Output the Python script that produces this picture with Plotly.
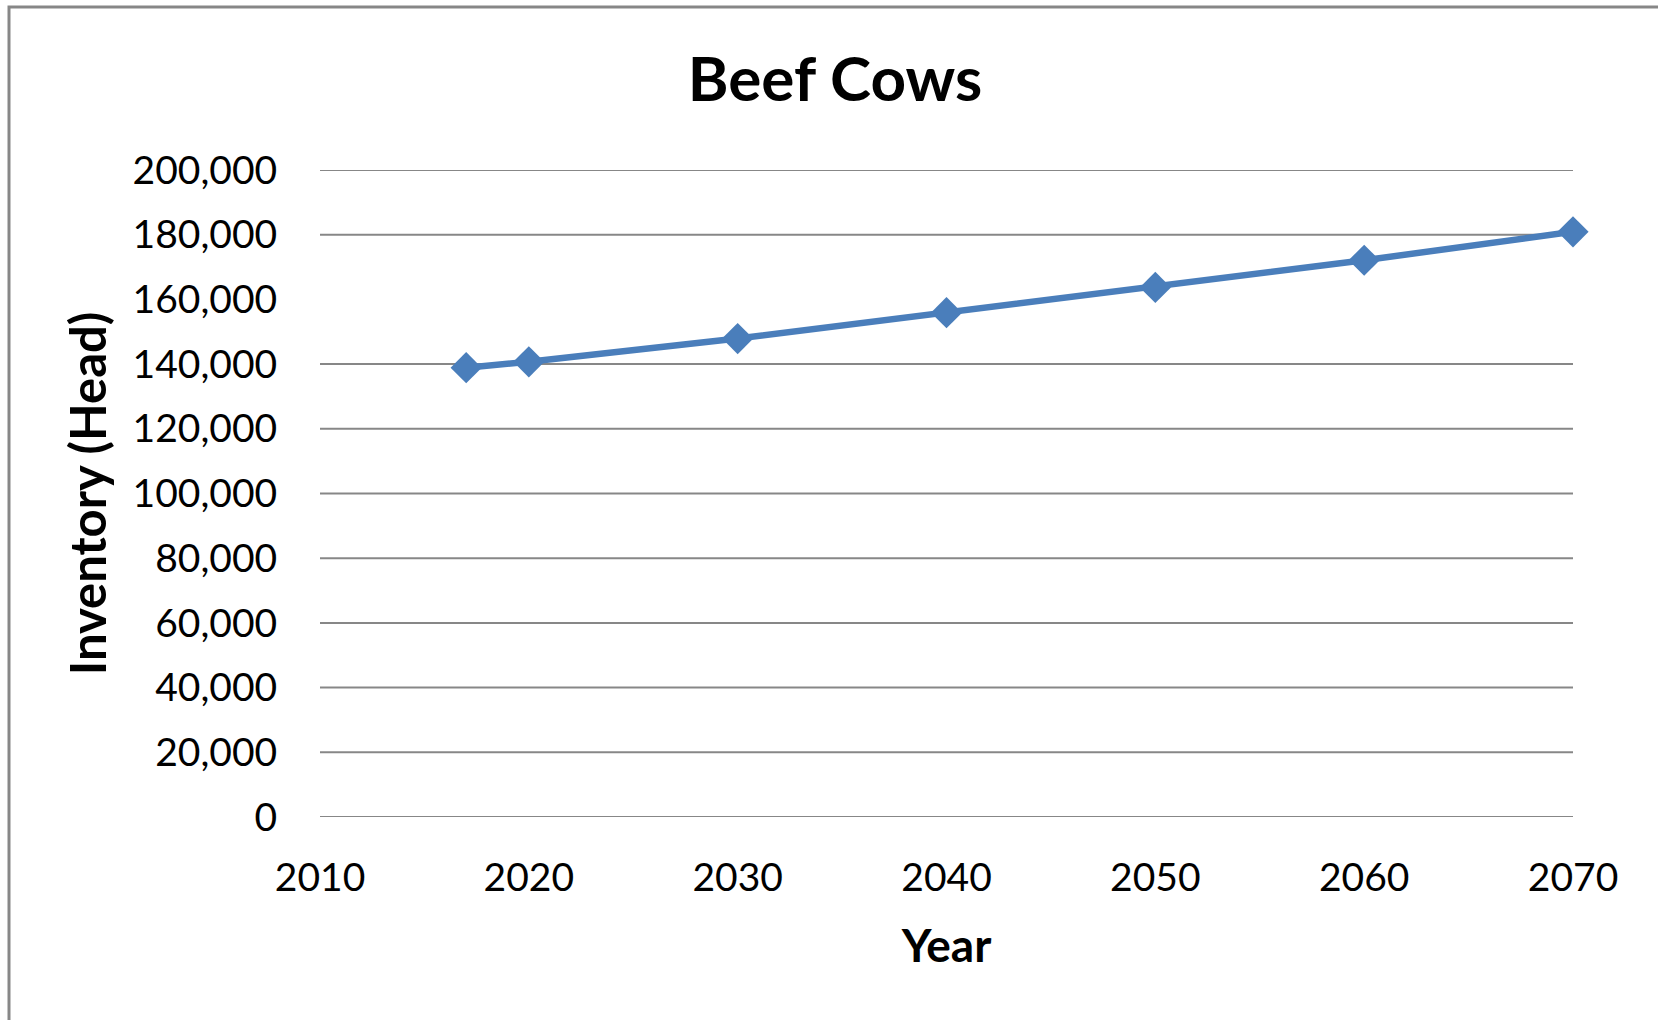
import plotly.graph_objects as go

# Beef cow inventory projection
years = [2017, 2020, 2030, 2040, 2050, 2060, 2070]
inventory = [138900, 140700, 147900, 155900, 163700, 172100, 180900]

x_ticks = [2010, 2020, 2030, 2040, 2050, 2060, 2070]
y_ticks = [0, 20000, 40000, 60000, 80000, 100000, 120000, 140000, 160000, 180000, 200000]
# horizontal rules drawn across the plot area
grid_values = [0, 20000, 40000, 60000, 80000, 100000, 120000, 140000, 180000, 200000]

BLUE = "#4a7ebb"
GRID = "#878787"

fig = go.Figure()
fig.add_trace(go.Scatter(
    x=years, y=inventory, mode="lines+markers",
    line=dict(color=BLUE, width=6.5),
    marker=dict(symbol="diamond", size=24, color=BLUE),
    cliponaxis=False, showlegend=False, hoverinfo="x+y",
))

shapes = [
    dict(type="line", xref="paper", x0=0, x1=1, yref="y", y0=v, y1=v,
         line=dict(color=GRID, width=2), layer="below")
    for v in grid_values
]
# outer chart frame
shapes.append(dict(type="rect", xref="paper", yref="paper",
                   x0=-311 / 1253, x1=1.2, y0=-0.5, y1=1 + 163 / 647,
                   line=dict(color=GRID, width=3), fillcolor="rgba(0,0,0,0)", layer="below"))

fig.update_layout(
    width=1658, height=1020,
    margin=dict(l=320, r=85, t=170, b=203),
    paper_bgcolor="white", plot_bgcolor="white",
    font=dict(family="Lato", color="#000000"),
    title=dict(text="<b>Beef Cows</b>", x=0.5036, xref="container", xanchor="center",
               y=1 - 79 / 1020, yref="container", yanchor="middle",
               font=dict(family="Lato", size=62, color="#000000")),
    shapes=shapes,
    xaxis=dict(range=[2010, 2070], tickvals=x_ticks, showgrid=False, zeroline=False,
               showline=False, ticks="outside", ticklen=0, ticklabelstandoff=26,
               tickfont=dict(family="Lato", size=39, color="#000000"),
               title=dict(text="<b>Year</b>", standoff=32,
                          font=dict(family="Lato", size=46, color="#000000"))),
    yaxis=dict(range=[0, 200000], tickvals=y_ticks, tickformat=",", showgrid=False,
               zeroline=False, showline=False, ticks="outside", ticklen=0,
               ticklabelstandoff=34,
               tickfont=dict(family="Lato", size=39, color="#000000"),
               title=dict(text="<b>Inventory (Head)</b>", standoff=10,
                          font=dict(family="Lato", size=49, color="#000000"))),
)

fig.write_html("out.html")
